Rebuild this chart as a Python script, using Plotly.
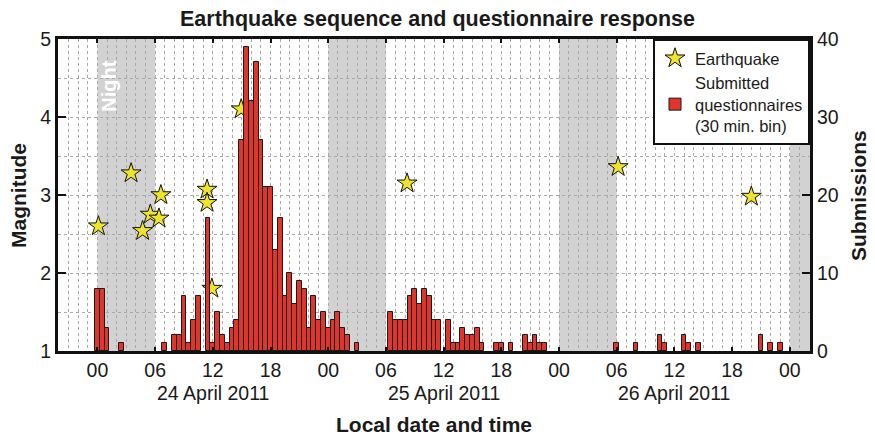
import plotly.graph_objects as go

# ---- data (hours after 00:00, 24 April 2011 local time) ----
bin_hours = [0.0, 0.5, 1.0, 2.5, 7.0, 8.0, 8.5, 9.0, 9.5, 10.0, 10.5, 11.5, 12.0, 12.5, 13.0, 13.5,
             14.0, 14.5, 15.0, 15.5, 16.0, 16.5, 17.0, 17.5, 18.0, 18.5, 19.0, 19.5, 20.0, 20.5,
             21.0, 21.5, 22.0, 22.5, 23.0, 23.5, 24.0, 24.5, 25.0, 25.5, 26.0, 27.0,
             30.5, 31.0, 31.5, 32.0, 32.5, 33.0, 33.5, 34.0, 34.5, 35.0, 35.5, 36.5, 37.0, 37.5,
             38.0, 38.5, 39.0, 39.5, 40.0, 41.5, 42.0, 43.0, 44.5, 45.0, 45.5, 46.0, 46.5,
             54.0, 56.0, 58.5, 59.0, 61.0, 61.5, 62.5, 69.0, 70.0, 71.0]
submissions = [8, 8, 3, 1, 1, 2, 2, 7, 1, 4, 7, 17, 1, 5, 2, 1,
               3, 4, 27, 39, 32, 37, 27, 21, 21, 13, 17, 7, 10, 6,
               9, 8, 3, 7, 4, 5, 3, 4, 5, 3, 2, 1,
               5, 4, 4, 4, 7, 8, 6, 8, 7, 4, 4, 4, 1, 1,
               3, 2, 2, 3, 1, 1, 1, 1, 2, 1, 2, 1, 1,
               1, 1, 2, 1, 2, 1, 1, 2, 1, 1]

quake_hours = [0.1, 3.5, 4.7, 5.5, 6.4, 6.6, 11.4, 11.4, 11.9, 14.95, 32.2, 54.15, 68.0]
quake_mag = [2.6, 3.28, 2.54, 2.75, 2.7, 3.0, 3.07, 2.9, 1.8, 4.1, 3.15, 3.36, 2.98]

tick_hours = [0, 6, 12, 18, 24, 30, 36, 42, 48, 54, 60, 66, 72]
tick_labels = ["00", "06", "12", "18", "00", "06", "12", "18", "00", "06", "12", "18", "00"]
date_hours = [12, 36, 60]
date_labels = ["24 April 2011", "25 April 2011", "26 April 2011"]
night_starts = [0, 24, 48, 72]
night_ends = [6, 30, 54, 74.1]

FONT = "Liberation Sans, Arial, Helvetica, sans-serif"
GRID = "#a8a8a8"
TXT = "#1a1a1a"

fig = go.Figure()
fig.add_trace(go.Scatter(
    x=quake_hours, y=quake_mag, mode="markers", name="Earthquake", yaxis="y",
    marker=dict(symbol="star", size=15, color="#f0e32c", line=dict(color="#111", width=1)),
))
fig.add_trace(go.Bar(
    x=bin_hours, y=submissions, width=0.5, yaxis="y2",
    name="Submitted<br>questionnaires<br>(30 min. bin)",
    marker=dict(color="#e0352a", line=dict(color="#1a1a1a", width=1)),
))

for s, e in zip(night_starts, night_ends):
    fig.add_shape(type="rect", xref="x", yref="paper", x0=s, x1=e, y0=0, y1=1,
                  fillcolor="#d2d2d2", line=dict(width=0), layer="below")

fig.update_layout(
    width=875, height=441,
    margin=dict(l=58, r=65, t=39, b=90),
    paper_bgcolor="white", plot_bgcolor="white",
    font=dict(family=FONT, size=19.5, color=TXT),
    showlegend=True,
    bargap=0,
    title=dict(text="<b>Earthquake sequence and questionnaire response</b>",
               x=0.5, xanchor="center", y=0.958, yanchor="middle", yref="container",
               font=dict(family=FONT, size=21.5, color=TXT)),
    legend=dict(x=1, xanchor="right", y=1, yanchor="top", bgcolor="white",
                bordercolor="#111", borderwidth=2, font=dict(family=FONT, size=16.5, color=TXT),
                tracegroupgap=2),
    xaxis=dict(range=[-4.1, 74.1], tickvals=tick_hours, ticktext=tick_labels,
               ticks="inside", ticklen=4, tickwidth=2, tickcolor="#111",
               showline=True, linewidth=3, linecolor="#111", mirror="ticks",
               showgrid=True, gridcolor=GRID, griddash="dot", gridwidth=1,
               minor=dict(dtick=1, tick0=0, showgrid=True, gridcolor=GRID, griddash="dot", gridwidth=1),
               zeroline=False),
    yaxis=dict(range=[1, 5], tickvals=[1, 2, 3, 4, 5], ticks="inside", ticklen=8, tickwidth=2,
               tickcolor="#111", showline=True, linewidth=3, linecolor="#111", mirror=True,
               showgrid=True, gridcolor=GRID, griddash="dot", gridwidth=1,
               minor=dict(dtick=0.5, tick0=1, showgrid=True, gridcolor=GRID, griddash="dot", gridwidth=1),
               zeroline=False),
    yaxis2=dict(range=[0, 40], tickvals=[0, 10, 20, 30, 40], overlaying="y", side="right",
                ticks="inside", ticklen=8, tickwidth=2, tickcolor="#111",
                showline=True, linewidth=3, linecolor="#111", showgrid=False, zeroline=False),
)

annots = []
for h, lab in zip(date_hours, date_labels):
    annots.append(dict(x=h, y=-0.135, xref="x", yref="paper", text=lab, showarrow=False,
                       font=dict(family=FONT, size=19.5), xanchor="center", yanchor="middle"))
annots.append(dict(x=0.5, y=-0.237, xref="paper", yref="paper", text="<b>Local date and time</b>",
                   showarrow=False, font=dict(family=FONT, size=21), xanchor="center", yanchor="middle"))
annots.append(dict(x=-0.0532, y=0.5, xref="paper", yref="paper", text="<b>Magnitude</b>", textangle=-90,
                   showarrow=False, font=dict(family=FONT, size=21), xanchor="center", yanchor="middle"))
annots.append(dict(x=1.0638, y=0.5, xref="paper", yref="paper", text="<b>Submissions</b>", textangle=-90,
                   showarrow=False, font=dict(family=FONT, size=21), xanchor="center", yanchor="middle"))
annots.append(dict(x=1.2, y=4.4, xref="x", yref="y", text="<b>Night</b>", textangle=-90,
                   showarrow=False, font=dict(family=FONT, size=20, color="white"),
                   xanchor="center", yanchor="middle"))
fig.update_layout(annotations=annots)

fig.write_html("out.html", config={"displayModeBar": False},
               post_script="document.body.style.margin='0';")
